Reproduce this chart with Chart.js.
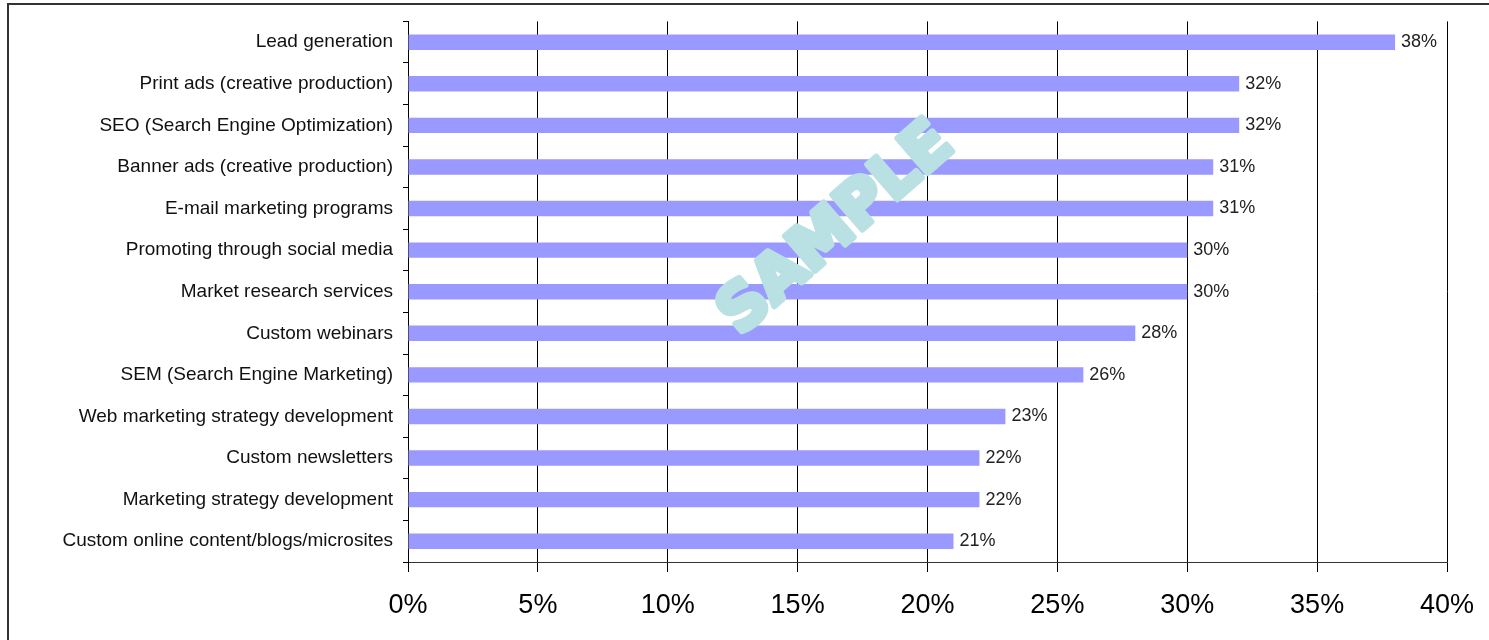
<!DOCTYPE html>
<html>
<head>
<meta charset="utf-8">
<script src="https://cdn.jsdelivr.net/npm/chart.js@4"></script>
<style>
  html, body { margin: 0; padding: 0; background: #fff; }
  #wrap { width: 1489px; height: 640px; }
</style>
</head>
<body>
<div id="wrap"><canvas id="servicesChart" width="1489" height="640"></canvas></div>
<script>
const categories = [
  'Lead generation',
  'Print ads (creative production)',
  'SEO (Search Engine Optimization)',
  'Banner ads (creative production)',
  'E-mail marketing programs',
  'Promoting through social media',
  'Market research services',
  'Custom webinars',
  'SEM (Search Engine Marketing)',
  'Web marketing strategy development',
  'Custom newsletters',
  'Marketing strategy development',
  'Custom online content/blogs/microsites'
];
const shares = [38, 32, 32, 31, 31, 30, 30, 28, 26, 23, 22, 22, 21];
const xTicks = [0, 5, 10, 15, 20, 25, 30, 35, 40];

// frame lines (top + left) around the picture
const framePlugin = {
  id: 'frame',
  beforeDraw(chart) {
    const c = chart.ctx;
    c.save();
    c.fillStyle = '#fff';
    c.fillRect(0, 0, chart.width, chart.height);
    c.strokeStyle = '#333';
    c.lineWidth = 2;
    c.beginPath();
    c.moveTo(8, chart.height);
    c.lineTo(8, 4);
    c.lineTo(chart.width, 4);
    c.stroke();
    c.restore();
  }
};

// value labels at bar ends
const valueLabels = {
  id: 'valueLabels',
  afterDatasetsDraw(chart) {
    const c = chart.ctx;
    const meta = chart.getDatasetMeta(0);
    c.save();
    c.font = '18px "Liberation Sans", Arial, sans-serif';
    c.fillStyle = '#222';
    c.textAlign = 'left';
    c.textBaseline = 'middle';
    meta.data.forEach((bar, i) => {
      c.fillText(shares[i] + '%', bar.x + 6, bar.y);
    });
    c.restore();
  }
};

// SAMPLE watermark
const watermark = {
  id: 'watermark',
  afterDraw(chart) {
    const c = chart.ctx;
    c.save();
    c.translate(837, 230);
    c.rotate(-41 * Math.PI / 180);
    c.font = 'bold 63px "DejaVu Sans", sans-serif';
    c.fillStyle = '#B9E0E3';
    c.strokeStyle = '#B9E0E3';
    c.lineWidth = 6;
    c.lineJoin = 'round';
    c.textAlign = 'center';
    c.textBaseline = 'middle';
    c.strokeText('SAMPLE', 0, 0);
    c.fillText('SAMPLE', 0, 0);
    c.restore();
  }
};

const ctx = document.getElementById('servicesChart').getContext('2d');

const servicesChart = new Chart(ctx, {
  type: 'bar',
  data: {
    labels: categories,
    datasets: [{
      data: shares,
      backgroundColor: '#9999FF',
      borderWidth: 0,
      categoryPercentage: 1,
      barPercentage: 0.37
    }]
  },
  options: {
    indexAxis: 'y',
    responsive: false,
    animation: false,
    layout: { padding: { left: 8, right: 42, top: 20, bottom: 0 } },
    plugins: {
      legend: { display: false },
      tooltip: { enabled: false }
    },
    scales: {
      x: {
        min: 0,
        max: 40,
        afterBuildTicks: (scale) => {
          scale.ticks = xTicks.map(v => ({ value: v }));
        },
        afterFit: (scale) => {
          scale.height = 78;
          scale.paddingLeft = 0;
          scale.paddingRight = 0;
        },
        grid: {
          color: '#000',
          lineWidth: 1,
          drawTicks: true,
          tickLength: 10,
          tickColor: '#000'
        },
        border: { display: true, color: '#333', width: 1 },
        ticks: {
          callback: (v) => v + '%',
          color: '#000',
          padding: 17,
          maxRotation: 0,
          font: { family: '"Liberation Sans", Arial, sans-serif', size: 27 }
        }
      },
      y: {
        afterFit: (scale) => { scale.width = 400; },
        grid: {
          drawOnChartArea: false,
          drawTicks: true,
          tickLength: 5,
          tickColor: '#000'
        },
        border: { display: true, color: '#000', width: 1 },
        ticks: {
          color: '#111',
          padding: 10,
          autoSkip: false,
          font: { family: '"Liberation Sans", Arial, sans-serif', size: 19 }
        }
      }
    }
  },
  plugins: [framePlugin, valueLabels, watermark]
});
</script>
</body>
</html>
